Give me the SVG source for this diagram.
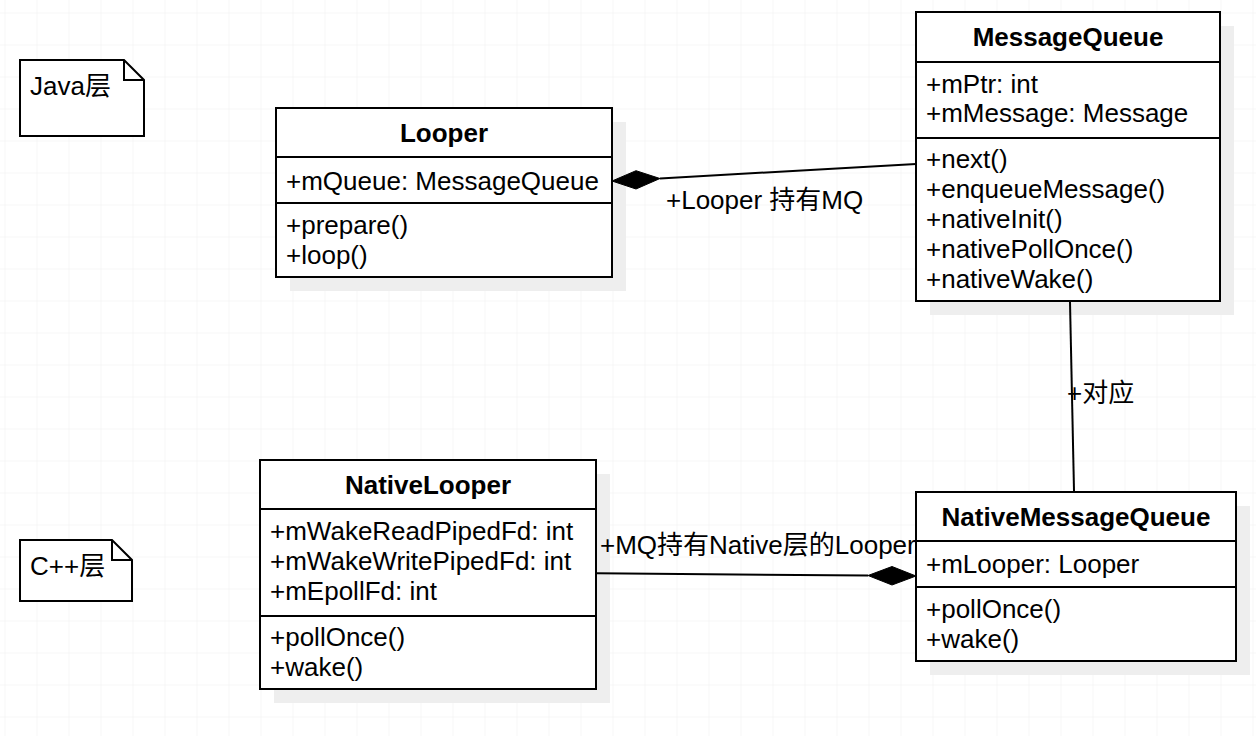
<svg xmlns="http://www.w3.org/2000/svg" width="1256" height="736" viewBox="0 0 1256 736">
<style>
text{font-family:"Liberation Sans","Noto Sans CJK SC",sans-serif;font-size:26px;fill:#000}
.t{font-weight:bold;text-anchor:middle}
.box{fill:#fff;stroke:#000;stroke-width:2}
.sh{fill:#eeeeee}
.sep{stroke:#000;stroke-width:2}
.ln{stroke:#000;stroke-width:2;fill:none}
</style>
<defs>
<pattern id="grid" x="4.5" y="12.5" width="32" height="32" patternUnits="userSpaceOnUse">
<path d="M0 0H32M0 0V32" stroke="#efefef" stroke-width="1" fill="none"/>
</pattern>
</defs>
<rect width="1256" height="736" fill="#fff"/>
<rect width="1256" height="736" fill="url(#grid)"/>

<g id="note-java">
<path class="box" d="M20 60H124L144 80V136H20Z"/>
<path class="ln" d="M124 60V80H144"/>
<text x="30" y="95">Java层</text>
</g>

<g id="note-cpp">
<path class="box" d="M20 540H112L132 560V601H20Z"/>
<path class="ln" d="M112 540V560H132"/>
<text x="30" y="575">C++层</text>
</g>

<g id="looper">
<rect class="sh" x="290" y="122" width="336" height="169"/>
<rect class="box" x="276" y="108" width="336" height="169"/>
<line class="sep" x1="276" y1="157" x2="612" y2="157"/>
<line class="sep" x1="276" y1="203" x2="612" y2="203"/>
<text class="t" x="444" y="142">Looper</text>
<text x="286" y="190">+mQueue: MessageQueue</text>
<text x="286" y="234">+prepare()</text>
<text x="286" y="264">+loop()</text>
</g>

<g id="messagequeue">
<rect class="sh" x="930" y="26" width="304" height="289"/>
<rect class="box" x="916" y="12" width="304" height="289"/>
<line class="sep" x1="916" y1="62" x2="1220" y2="62"/>
<line class="sep" x1="916" y1="138" x2="1220" y2="138"/>
<text class="t" x="1068" y="46">MessageQueue</text>
<text x="926" y="93">+mPtr: int</text>
<text x="926" y="122">+mMessage: Message</text>
<text x="926" y="168">+next()</text>
<text x="926" y="198">+enqueueMessage()</text>
<text x="926" y="228">+nativeInit()</text>
<text x="926" y="258">+nativePollOnce()</text>
<text x="926" y="288">+nativeWake()</text>
</g>

<g id="nativelooper">
<rect class="sh" x="274" y="474" width="336" height="229"/>
<rect class="box" x="260" y="460" width="336" height="229"/>
<line class="sep" x1="260" y1="509" x2="596" y2="509"/>
<line class="sep" x1="260" y1="616" x2="596" y2="616"/>
<text class="t" x="428" y="494">NativeLooper</text>
<text x="270" y="540">+mWakeReadPipedFd: int</text>
<text x="270" y="570">+mWakeWritePipedFd: int</text>
<text x="270" y="600">+mEpollFd: int</text>
<text x="270" y="646">+pollOnce()</text>
<text x="270" y="676">+wake()</text>
</g>

<g id="nativemessagequeue">
<rect class="sh" x="930" y="506" width="320" height="169"/>
<rect class="box" x="916" y="492" width="320" height="169"/>
<line class="sep" x1="916" y1="541" x2="1236" y2="541"/>
<line class="sep" x1="916" y1="587" x2="1236" y2="587"/>
<text class="t" x="1076" y="526">NativeMessageQueue</text>
<text x="926" y="573">+mLooper: Looper</text>
<text x="926" y="618">+pollOnce()</text>
<text x="926" y="648">+wake()</text>
</g>

<g id="connectors">
<line class="ln" x1="660" y1="178.5" x2="916" y2="164"/>
<polygon points="612,181 636,170.7 660,178.5 636,189" fill="#000" stroke="#000" stroke-width="1"/>
<text x="666" y="209">+Looper 持有MQ</text>

<line class="ln" x1="1070" y1="302" x2="1074" y2="491"/>
<text x="1067" y="402">+对应</text>

<line class="ln" x1="597" y1="573.3" x2="868" y2="575.5"/>
<polygon points="916,576 892,566.5 868,575.5 892,585" fill="#000" stroke="#000" stroke-width="1"/>
<text x="600" y="554">+MQ持有Native层的Looper</text>
</g>
</svg>
